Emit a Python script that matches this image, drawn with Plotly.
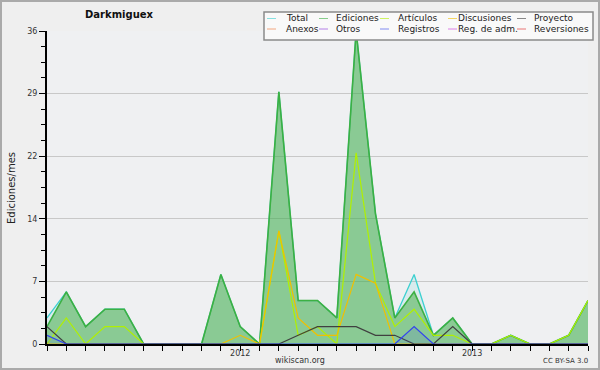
import plotly.graph_objects as go

months = ["2011-03", "2011-04", "2011-05", "2011-06", "2011-07", "2011-08", "2011-09",
          "2011-10", "2011-11", "2011-12", "2012-01", "2012-02", "2012-03", "2012-04",
          "2012-05", "2012-06", "2012-07", "2012-08", "2012-09", "2012-10", "2012-11",
          "2012-12", "2013-01", "2013-02", "2013-03", "2013-04", "2013-05", "2013-06",
          "2013-07"]

total       = [3, 6, 2, 4, 4, 0, 0, 0, 0, 8, 2, 0, 29, 5, 5, 3, 36, 15, 3, 8, 1, 3, 0, 0, 1, 0, 0, 1, 5]
ediciones   = [2, 6, 2, 4, 4, 0, 0, 0, 0, 8, 2, 0, 29, 5, 5, 3, 36, 15, 3, 6, 1, 3, 0, 0, 1, 0, 0, 1, 5]
articulos   = [0, 3, 0, 2, 2, 0, 0, 0, 0, 0, 0, 0, 13, 1, 2, 0, 22, 7, 2, 4, 1, 1, 0, 0, 1, 0, 0, 1, 5]
discusiones = [0, 0, 0, 0, 0, 0, 0, 0, 0, 0, 1, 0, 13, 3, 1, 1, 8, 7, 0, 0, 0, 0, 0, 0, 0, 0, 0, 0, 0]
proyecto    = [2, 0, 0, 0, 0, 0, 0, 0, 0, 0, 0, 0, 0, 1, 2, 2, 2, 1, 1, 0, 0, 2, 0, 0, 0, 0, 0, 0, 0]
registros   = [1, 0, 0, 0, 0, 0, 0, 0, 0, 0, 0, 0, 0, 0, 0, 0, 0, 0, 0, 2, 0, 0, 0, 0, 0, 0, 0, 0, 0]

legend_names = ["Total", "Ediciones", "Artículos", "Discusiones", "Proyecto",
                "Anexos", "Otros", "Registros", "Reg. de adm.", "Reversiones"]
legend_colors = ["#3cd0d0", "#3cb043", "#b0f000", "#f0c000", "#404040",
                 "#f07030", "#8833dd", "#3344ee", "#cc33dd", "#e02020"]

y_tickvals = [0, 7.2, 14.4, 21.6, 28.8, 36]
y_ticktext = ["0", "7", "14", "22", "29", "36"]
x_ticktext = ["2012" if m == "2012-01" else ("2013" if m == "2013-01" else "") for m in months]

W, H = 600, 370
L, R, T, B = 47, 12, 31, 26
PW, PH = W - L - R, H - T - B


def px(x):
    return (x - L) / PW


def py(y):
    return 1 - (y - T) / PH


FONT = "DejaVu Sans"
fig = go.Figure()

fig.add_trace(go.Scatter(x=months, y=total, mode="lines", fill="tozeroy",
                         line=dict(color="#3cd0d0", width=1.3),
                         fillcolor="rgba(60,208,208,0.12)", showlegend=False))
fig.add_trace(go.Scatter(x=months, y=ediciones, mode="lines", fill="tozeroy",
                         line=dict(color="#3cb043", width=1.6),
                         fillcolor="rgba(60,170,60,0.5)", showlegend=False))
fig.add_trace(go.Scatter(x=months, y=articulos, mode="lines",
                         line=dict(color="#b0f000", width=1.2), showlegend=False))
fig.add_trace(go.Scatter(x=months, y=discusiones, mode="lines",
                         line=dict(color="#f0c000", width=1.2), showlegend=False))
fig.add_trace(go.Scatter(x=months, y=proyecto, mode="lines",
                         line=dict(color="#404040", width=1.2), showlegend=False))
fig.add_trace(go.Scatter(x=months, y=registros, mode="lines", fill="tozeroy",
                         line=dict(color="#3344ee", width=1.2),
                         fillcolor="rgba(51,68,238,0.12)", showlegend=False))

shapes = []
annotations = []

# outer border
shapes.append(dict(type="rect", xref="paper", yref="paper", layer="above",
                   x0=px(1), x1=px(W - 1), y0=py(H - 1), y1=py(1),
                   line=dict(color="#aaaaaa", width=2)))

# legend box
shapes.append(dict(type="rect", xref="paper", yref="paper", layer="above",
                   x0=px(264), x1=px(593), y0=py(40), y1=py(12),
                   fillcolor="#f9f9f9", line=dict(color="#8a8a8a", width=1.5)))

col_line = [267, 319, 380, 448, 517]
col_text = [284, 334, 396, 456, 532]
row_y = [18.5, 29]
for i, (name, color) in enumerate(zip(legend_names, legend_colors)):
    r, c = divmod(i, 5)
    yy = row_y[r]
    shapes.append(dict(type="line", xref="paper", yref="paper", layer="above",
                       x0=px(col_line[c]), x1=px(col_line[c] + 9), y0=py(yy), y1=py(yy),
                       line=dict(color=color, width=1), opacity=0.6))
    annotations.append(dict(text=name, xref="paper", yref="paper", x=px(col_text[c]), y=py(yy),
                            xanchor="left", yanchor="middle", showarrow=False,
                            font=dict(family=FONT, size=9, color="#222222")))

annotations.append(dict(text="<b>Darkmiguex</b>", xref="paper", yref="paper",
                        x=px(119), y=py(14), xanchor="center", yanchor="middle", showarrow=False,
                        font=dict(family=FONT, size=10, color="#111111")))
annotations.append(dict(text="Ediciones/mes", xref="paper", yref="paper",
                        x=px(11), y=py(188), xanchor="center", yanchor="middle", showarrow=False,
                        textangle=-90, font=dict(family=FONT, size=10, color="#222222")))
annotations.append(dict(text="wikiscan.org", xref="paper", yref="paper",
                        x=px(300), y=py(360), xanchor="center", yanchor="middle", showarrow=False,
                        font=dict(family=FONT, size=8, color="#333333")))
annotations.append(dict(text="CC BY-SA 3.0", xref="paper", yref="paper",
                        x=px(590), y=py(361), xanchor="right", yanchor="middle", showarrow=False,
                        font=dict(family=FONT, size=7, color="#333333")))

fig.update_layout(
    width=W, height=H,
    margin=dict(l=L, r=R, t=T, b=B, pad=0),
    paper_bgcolor="#efefef",
    plot_bgcolor="#eff0f2",
    showlegend=False,
    shapes=shapes,
    annotations=annotations,
    font=dict(family=FONT, size=8, color="#333333"),
)
fig.update_xaxes(type="category", range=[0, len(months) - 1],
                 tickmode="array", tickvals=months, ticktext=x_ticktext,
                 ticks="outside", ticklen=5, tickwidth=1, tickcolor="#000000",
                 showline=True, linecolor="#000000", linewidth=2,
                 showgrid=False, zeroline=False, ticklabelstandoff=-5,
                 tickfont=dict(family=FONT, size=8, color="#333333"))
fig.update_yaxes(range=[0, 36], tickmode="array", tickvals=y_tickvals, ticktext=y_ticktext,
                 ticks="outside", ticklen=6, tickwidth=1, tickcolor="#000000",
                 showline=True, linecolor="#000000", linewidth=2,
                 showgrid=True, gridcolor="#c8c8c8", gridwidth=1, zeroline=False,
                 minor=dict(tickmode="linear", tick0=0, dtick=1.8, ticks="outside", ticklen=4,
                            tickcolor="#000000", tickwidth=1, showgrid=False),
                 tickfont=dict(family=FONT, size=8, color="#333333"))

fig.write_html("out.html", config={"displayModeBar": False},
               post_script="document.body.style.margin='0';document.body.style.padding='0';"
                           "document.body.style.overflow='hidden';")
